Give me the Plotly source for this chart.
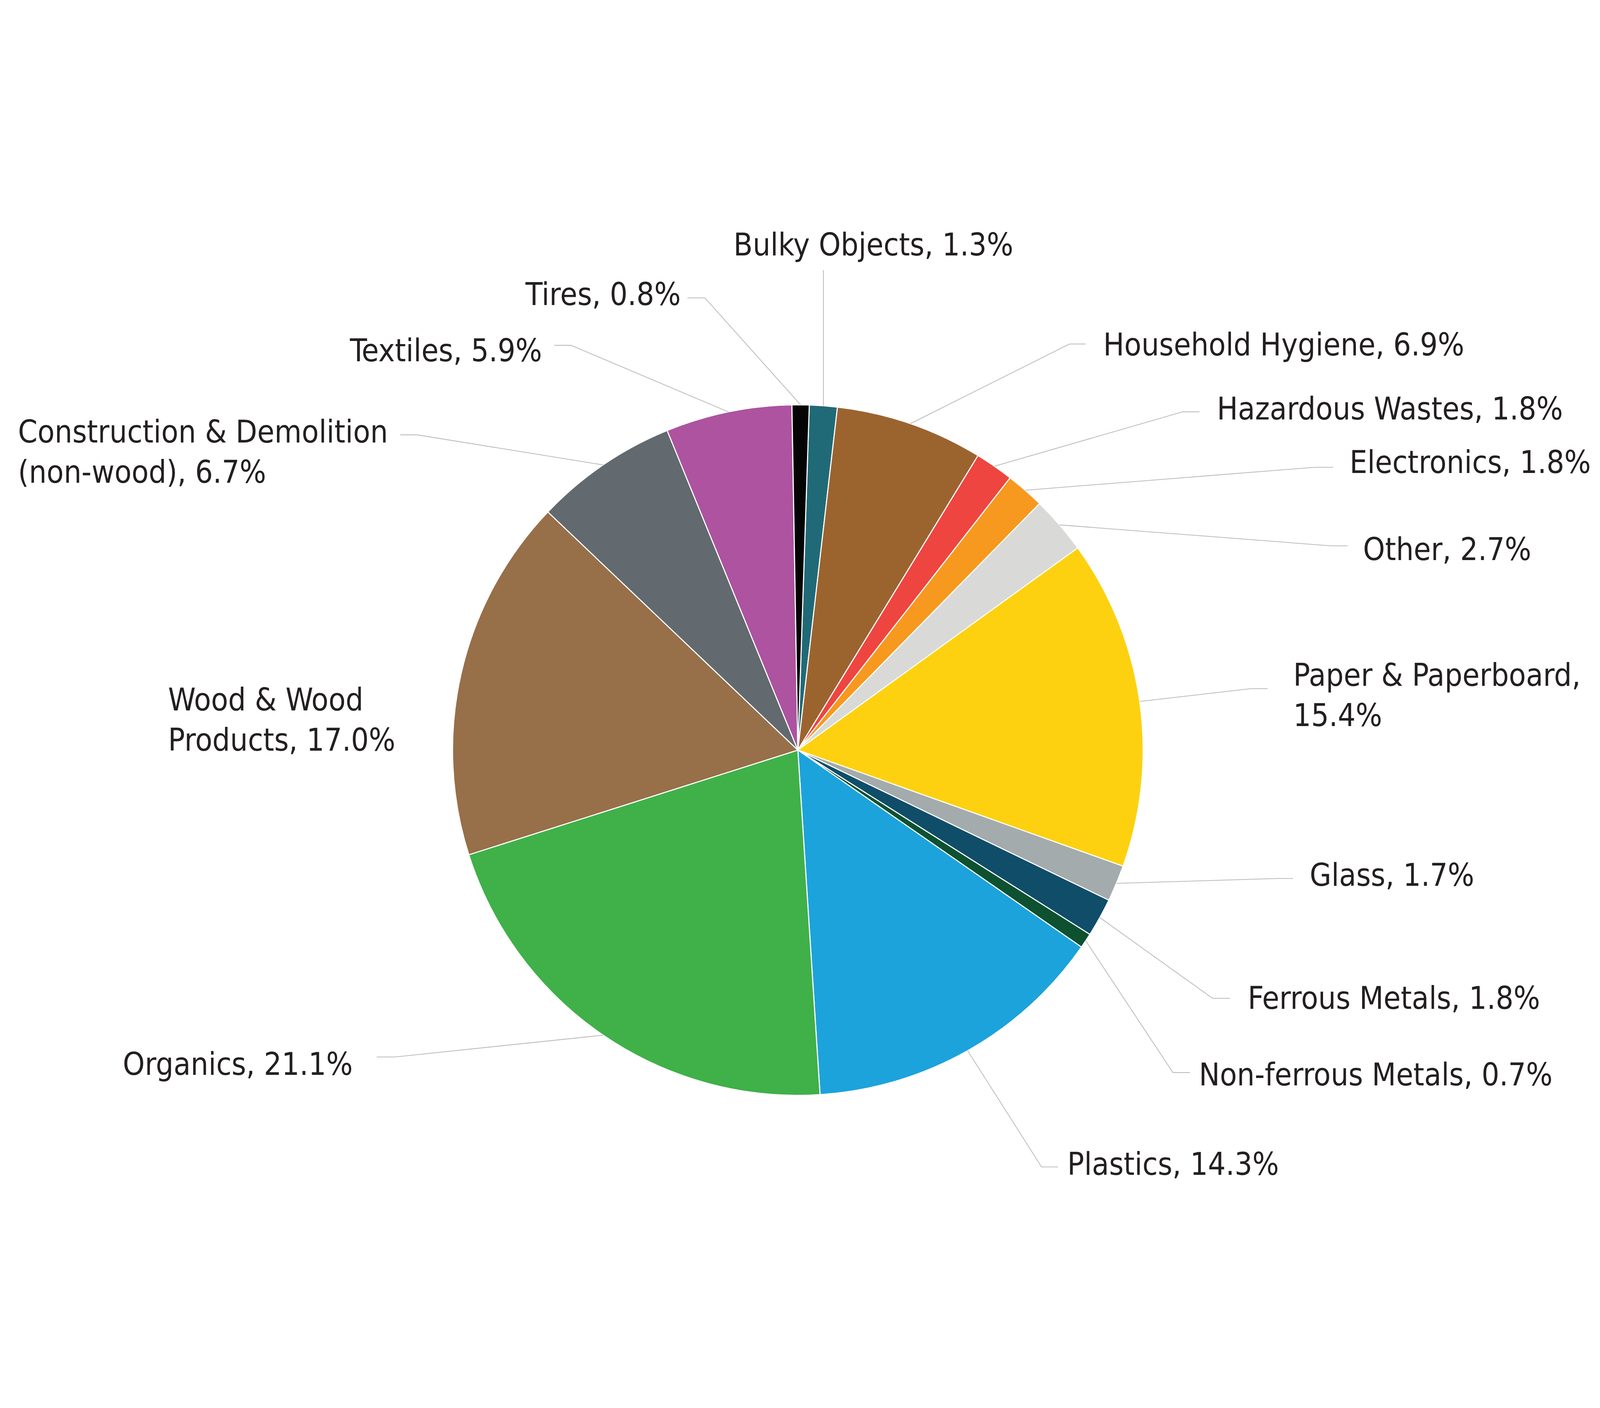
import math
import plotly.graph_objects as go

# ---------------- data ----------------
categories = [
    "Bulky Objects", "Household Hygiene", "Hazardous Wastes", "Electronics",
    "Other", "Paper & Paperboard", "Glass", "Ferrous Metals",
    "Non-ferrous Metals", "Plastics", "Organics", "Wood & Wood Products",
    "Construction & Demolition (non-wood)", "Textiles", "Tires",
]
shares = [1.3, 6.9, 1.8, 1.8, 2.7, 15.4, 1.7, 1.8, 0.7, 14.3, 21.1, 17.0, 6.7, 5.9, 0.8]
label_texts = [
    "Bulky Objects, 1.3%", "Household Hygiene, 6.9%", "Hazardous Wastes, 1.8%",
    "Electronics, 1.8%", "Other, 2.7%", "Paper & Paperboard,<br>15.4%",
    "Glass, 1.7%", "Ferrous Metals, 1.8%", "Non-ferrous Metals, 0.7%",
    "Plastics, 14.3%", "Organics, 21.1%", "Wood & Wood<br>Products, 17.0%",
    "Construction & Demolition<br>(non-wood), 6.7%", "Textiles, 5.9%", "Tires, 0.8%",
]
colors = [
    "#206a78", "#9b642f", "#ee4540", "#f7991e", "#d9d9d7", "#fdd10f", "#a4abad",
    "#0f4d69", "#0d5130", "#1ca3dc", "#40b049", "#976f48", "#62696f", "#ad539f", "#050505",
]

# ---------------- layout (pixels of the 5968x3605 design) ----------------
W, H = 5968, 3605
CX, CY, R = 2976, 1975, 1288
ROT = 1.9
FONT = "Liberation Sans Narrow, Arial Narrow, DejaVu Sans Condensed, sans-serif"
FONT_SIZE = 116
TEXT_COLOR = "#231f20"
LINE_COLOR = "#bcbcbc"

# per label: text x, text y, x-anchor, leader y, elbow x, hook-end x  (None = no leader / vertical)
label_layout = [
    (3258, 90, "center", 184, None, None),
    (4113, 462, "left", 460, 3989, 4050),
    (4537, 700, "left", 713, 4412, 4474),
    (5032, 900, "left", 920, 4904, 4973),
    (5082, 1225, "left", 1213, 4964, 5027),
    (4822, 1770, "left", 1746, 4665, 4728),
    (4883, 2440, "left", 2454, 4764, 4823),
    (4652, 2900, "left", 2901, 4523, 4588),
    (4470, 3185, "left", 3178, 4375, 4438),
    (3979, 3518, "left", 3530, 3885, 3946),
    (1318, 3145, "right", 3120, 1471, 1405),
    (625, 1862, "left", None, None, None),
    (65, 862, "left", 799, 1556, 1493),
    (2024, 485, "right", 465, 2130, 2067),
    (2541, 275, "right", 288, 2629, 2564),
]


def px(x):
    return x / W


def py(y):
    return 1 - y / H


fig = go.Figure()
fig.add_trace(go.Pie(
    labels=categories, values=shares, sort=False, direction="clockwise",
    rotation=ROT,
    marker=dict(colors=colors, line=dict(color="white", width=4)),
    textinfo="none", hoverinfo="label+percent", showlegend=False,
    domain=dict(x=[px(CX - R), px(CX + R)], y=[py(CY + R), py(CY - R)]),
))

total = sum(shares)
cum = 0.0
shapes = []
annotations = []
for name, val, txt, lay in zip(categories, shares, label_texts, label_layout):
    mid = math.radians(ROT + (cum + val / 2) / total * 360)
    cum += val
    ex = CX + R * math.sin(mid)
    ey = CY - R * math.cos(mid)
    tx, ty, anchor, ly, elx, hx = lay
    if ly is not None:
        if elx is None:
            path = f"M {px(ex)},{py(ey)} L {px(ex)},{py(ly)}"
        else:
            path = f"M {px(ex)},{py(ey)} L {px(elx)},{py(ly)} L {px(hx)},{py(ly)}"
        shapes.append(dict(type="path", xref="paper", yref="paper", path=path,
                           line=dict(color=LINE_COLOR, width=3)))
    annotations.append(dict(
        x=px(tx), y=py(ty), xref="paper", yref="paper", text=txt,
        showarrow=False, xanchor=anchor, yanchor="middle", align="left",
        font=dict(family=FONT, size=FONT_SIZE, color=TEXT_COLOR),
    ))

fig.update_layout(
    width=W, height=H, margin=dict(l=0, r=0, t=0, b=0),
    paper_bgcolor="white", plot_bgcolor="white",
    shapes=shapes, annotations=annotations,
)

# scale the fixed-size figure uniformly so it fits the browser window
fit_js = """
(function(){
  var gd = document.getElementById('{plot_id}');
  function fit(){
    var vw = window.innerWidth, vh = window.innerHeight;
    var s = Math.min(vw / %d, vh / %d);
    var top = Math.max(0, (vh - %d * s) / 2);
    var left = Math.max(0, (vw - %d * s) / 2);
    document.documentElement.style.overflow = 'hidden';
    document.body.style.margin = '0';
    document.body.style.overflow = 'hidden';
    document.body.style.background = 'white';
    gd.style.position = 'absolute';
    gd.style.left = left + 'px';
    gd.style.top = top + 'px';
    gd.style.transformOrigin = '0 0';
    gd.style.transform = 'scale(' + s + ')';
  }
  fit();
  window.addEventListener('resize', fit);
})();
""" % (W, H, H, W)

fig.write_html("out.html", post_script=fit_js, config={"displayModeBar": False})
